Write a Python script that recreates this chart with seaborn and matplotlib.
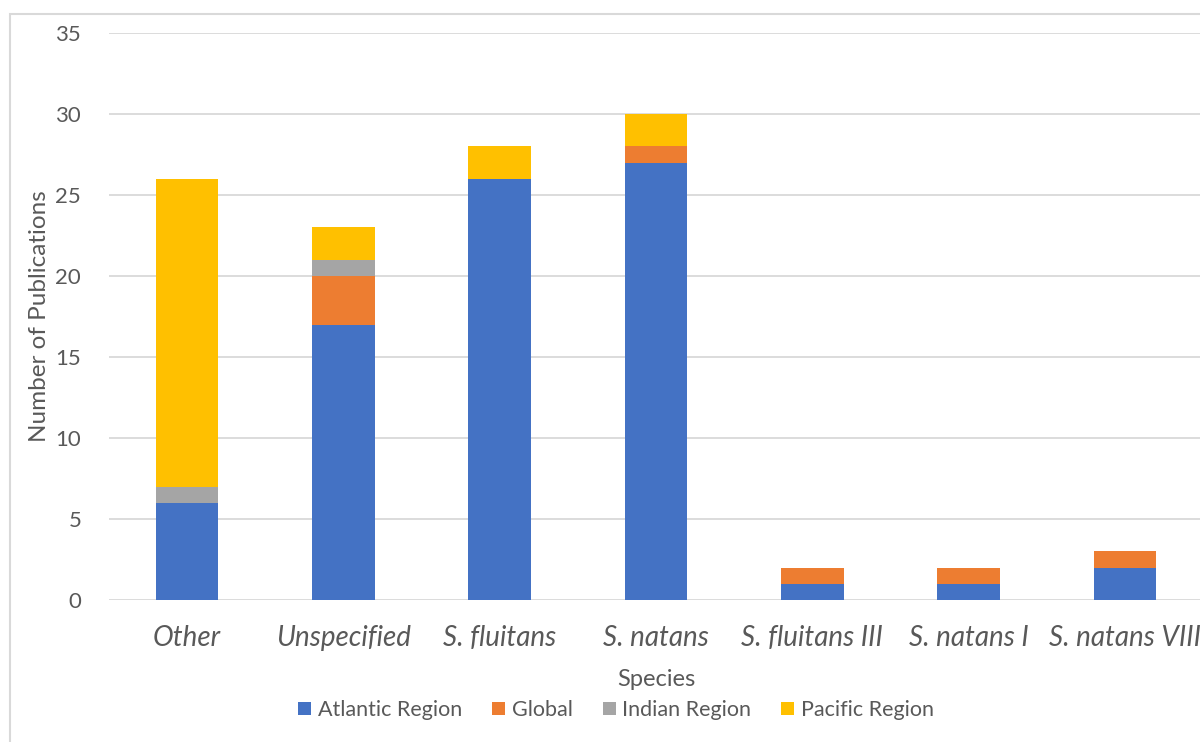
import matplotlib
matplotlib.use("Agg")
import matplotlib.pyplot as plt
from matplotlib.patches import Rectangle, Patch
import numpy as np
import pandas as pd
import seaborn as sns

species = ["Other", "Unspecified", "S. fluitans", "S. natans",
           "S. fluitans III", "S. natans I", "S. natans VIII"]
atlantic = [6, 17, 26, 27, 1, 1, 2]
global_ = [0, 3, 0, 1, 1, 1, 1]
indian = [1, 1, 0, 0, 0, 0, 0]
pacific = [19, 2, 2, 2, 0, 0, 0]

regions = ["Atlantic Region", "Global", "Indian Region", "Pacific Region"]
colors = ["#4472C4", "#ED7D31", "#A5A5A5", "#FFC000"]

sns.set_theme(style="white")
plt.rcParams["font.family"] = ["Lato", "DejaVu Sans"]
text_color = "#595959"
grid_color = "#D9D9D9"

df = pd.DataFrame({"Species": species, "Atlantic Region": atlantic,
                   "Global": global_, "Indian Region": indian,
                   "Pacific Region": pacific})
cum = df[regions].cumsum(axis=1)

fig = plt.figure(figsize=(12, 7.42), dpi=100)
ax = fig.add_axes([109 / 1200, 1 - 600 / 742, (1203 - 109) / 1200, (600 - 33) / 742])

# stacked bars: draw cumulative totals from the top segment down
for region, color in zip(reversed(regions), reversed(colors)):
    sns.barplot(x=df["Species"], y=cum[region], color=color, width=0.4,
                saturation=1, linewidth=0, ax=ax, zorder=3)

ax.set_ylim(0, 35)
ax.set_yticks(np.arange(0, 36, 5))
ax.yaxis.grid(True, color=grid_color, linewidth=1.3, zorder=0)
ax.set_axisbelow(True)
for s in ax.spines.values():
    s.set_visible(False)
ax.tick_params(axis="both", length=0)
ax.tick_params(axis="y", labelsize=16, labelcolor=text_color, pad=20)
ax.tick_params(axis="x", labelsize=20, labelcolor=text_color, pad=18)
for lbl in ax.get_xticklabels():
    lbl.set_fontstyle("italic")

ax.set_xlabel("Species", fontsize=17, color=text_color, va="center")
ax.xaxis.set_label_coords(0.5, (600 - 680) / 567)
ax.set_ylabel("Number of Publications", fontsize=17.5, color=text_color, va="center")
ax.yaxis.set_label_coords((40 - 109) / 1094, 0.5)

handles = [Patch(facecolor=c, edgecolor="none") for c in colors]
fig.legend(handles, regions, loc="center", bbox_to_anchor=(616 / 1200, 1 - 710 / 742),
           ncol=4, frameon=False, fontsize=15.5, labelcolor=text_color,
           handlelength=0.6, handleheight=0.6, handletextpad=0.3, columnspacing=1.4)

# chart area outline
fig.patches.append(Rectangle((10 / 1200, -0.05), 1.1, 1 - 14 / 742 + 0.05,
                             transform=fig.transFigure, fill=False,
                             edgecolor=grid_color, linewidth=1.5))

fig.savefig("out.png", dpi=100)
